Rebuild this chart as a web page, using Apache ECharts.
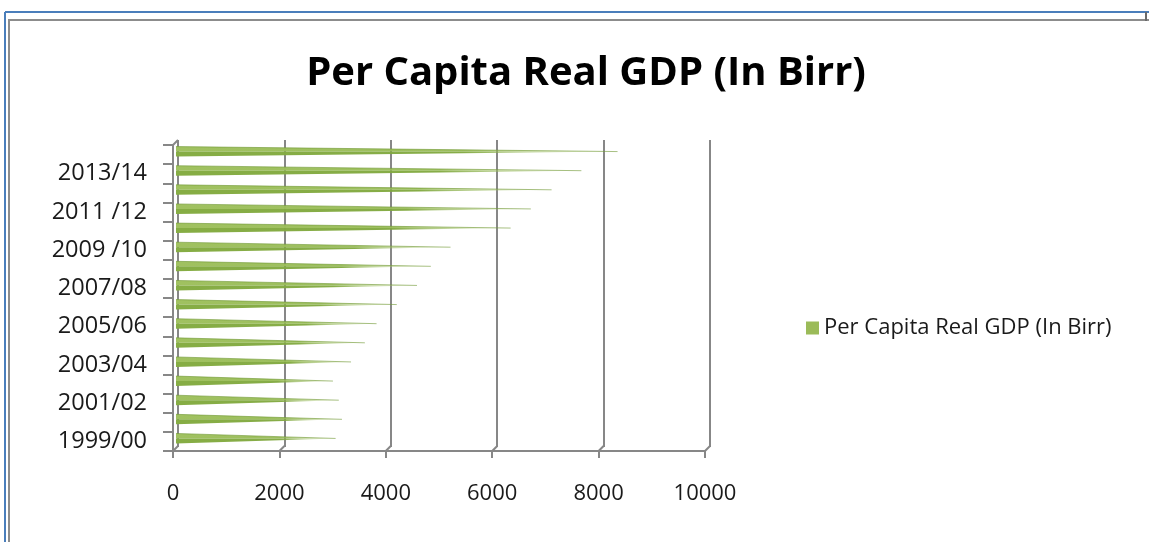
<!DOCTYPE html>
<html>
<head>
<meta charset="utf-8">
<title>Per Capita Real GDP (In Birr)</title>
<script src="https://cdn.jsdelivr.net/npm/echarts@6/dist/echarts.min.js"></script>
<style>
  html, body { margin: 0; padding: 0; background: #ffffff; }
  #chart { width: 1149px; height: 542px; }
</style>
</head>
<body>
<div id="chart"></div>
<script>
// Fiscal years, oldest first (drawn bottom to top)
const years = [
  '1999/00', '2000/01', '2001/02', '2002/03', '2003/04', '2004/05',
  '2005/06', '2006/07', '2007/08', '2008/09', '2009 /10', '2010/11',
  '2011 /12', '2012/13', '2013/14', '2014/15'
];

// Per capita real GDP, Birr
const gdpPerCapita = [
  3000, 3120, 3060, 2950, 3290, 3550,
  3770, 4150, 4530, 4790, 5160, 6290,
  6670, 7060, 7620, 8300
];

// Value axis ticks
const valueTicks = [0, 2000, 4000, 6000, 8000, 10000];

const seriesName = 'Per Capita Real GDP (In Birr)';
const FONT = 'Open Sans';
const AXIS_GRAY = '#878787';

const chart = echarts.init(document.getElementById('chart'), null, { renderer: 'canvas' });

// Cone drawn from the category base to the value tip, darker lower half
function renderCone(params, api) {
  const idx = api.value(0);
  const val = api.value(1);
  const base = api.coord([0, idx]);
  const tip = api.coord([val, idx]);
  const h = 5;
  const fade = function (c0, c1, c2) {
    return {
      type: 'linear', x: 0, y: 0, x2: 1, y2: 0,
      colorStops: [
        { offset: 0, color: c0 },
        { offset: 0.65, color: c1 },
        { offset: 1, color: c2 }
      ]
    };
  };
  return {
    type: 'group',
    children: [
      {
        type: 'polygon',
        shape: { points: [[base[0], base[1] - h], [base[0], base[1]], tip] },
        style: { fill: fade('#a0c160', 'rgba(152,188,86,0.95)', 'rgba(190,214,140,0.2)') }
      },
      {
        type: 'polygon',
        shape: { points: [[base[0], base[1]], [base[0], base[1] + h], tip] },
        style: { fill: fade('#86ad44', 'rgba(128,168,62,0.95)', 'rgba(180,206,130,0.2)') }
      },
      {
        type: 'line',
        shape: { x1: base[0], y1: base[1] - h, x2: tip[0], y2: tip[1] },
        style: { stroke: 'rgba(112,152,52,0.6)', lineWidth: 1 }
      }
    ]
  };
}

// Short slanted strokes joining the back wall to the front axis
function renderJoints(params, api) {
  const v = api.value(0);
  const bottom = api.coord([v, 0]);
  const band = api.size([0, 1])[1];
  const yb = bottom[1] + band / 2;
  const children = [{
    type: 'line',
    shape: { x1: bottom[0], y1: yb, x2: bottom[0] + 5, y2: yb - 5 },
    style: { stroke: AXIS_GRAY, lineWidth: 2 }
  }];
  if (params.dataIndex === 0) {
    const top = api.coord([v, years.length - 1]);
    const yt = top[1] - band / 2;
    children.push({
      type: 'line',
      shape: { x1: top[0], y1: yt, x2: top[0] + 5, y2: yt - 5 },
      style: { stroke: AXIS_GRAY, lineWidth: 2 }
    });
  }
  return { type: 'group', children: children };
}

const option = {
  backgroundColor: '#ffffff',
  animation: false,
  title: {
    text: 'Per Capita Real GDP (In Birr)',
    left: 581,
    top: 49,
    textAlign: 'center',
    textStyle: { fontFamily: FONT, fontWeight: 'bold', fontSize: 40, color: '#000000' }
  },
  legend: {
    left: 801,
    top: 312,
    itemWidth: 13,
    itemHeight: 13,
    icon: 'rect',
    data: [{ name: seriesName, itemStyle: { color: '#9bbb59' } }],
    textStyle: { fontFamily: FONT, fontSize: 22, color: '#1a1a1a' }
  },
  grid: [
    // front plane: axes and labels
    { left: 173, top: 145, width: 532, height: 306 },
    // back wall: gridlines
    { left: 178, top: 140, width: 532, height: 307 },
    // mid depth: cones
    { left: 176, top: 142, width: 532, height: 306 }
  ],
  xAxis: [
    {
      gridIndex: 0, type: 'value', min: 0, max: 10000, interval: 2000,
      axisLine: { show: true, lineStyle: { color: AXIS_GRAY, width: 2 } },
      axisTick: { show: true, length: 7, lineStyle: { color: AXIS_GRAY, width: 2 } },
      axisLabel: {
        margin: 32, fontFamily: FONT, fontSize: 22, color: '#1a1a1a',
        formatter: function (v) { return String(v); }
      },
      splitLine: { show: false }
    },
    {
      gridIndex: 1, type: 'value', min: 0, max: 10000, interval: 2000,
      axisLine: { show: false }, axisTick: { show: false }, axisLabel: { show: false },
      splitLine: { show: true, lineStyle: { color: AXIS_GRAY, width: 2 } }
    },
    {
      gridIndex: 2, type: 'value', min: 0, max: 10000, interval: 2000, show: false
    }
  ],
  yAxis: [
    {
      gridIndex: 0, type: 'category', data: years,
      axisLine: { show: true, lineStyle: { color: AXIS_GRAY, width: 2 } },
      axisTick: { show: true, length: 10, interval: 0, lineStyle: { color: AXIS_GRAY, width: 2 } },
      axisLabel: { interval: 1, margin: 26, fontFamily: FONT, fontSize: 23.5, color: '#1a1a1a' },
      splitLine: { show: false }
    },
    {
      gridIndex: 1, type: 'category', data: years, show: false
    },
    {
      gridIndex: 2, type: 'category', data: years, show: false
    }
  ],
  series: [
    {
      name: seriesName,
      type: 'custom',
      xAxisIndex: 2,
      yAxisIndex: 2,
      color: '#9bbb59',
      renderItem: renderCone,
      encode: { x: 1, y: 0 },
      data: years.map(function (y, i) { return [i, gdpPerCapita[i]]; }),
      z: 3
    },
    {
      type: 'custom',
      xAxisIndex: 0,
      yAxisIndex: 0,
      renderItem: renderJoints,
      data: valueTicks.map(function (v) { return [v]; }),
      silent: true,
      z: 2
    }
  ],
  graphic: [
    // window frame
    { type: 'line', shape: { x1: 5, y1: 12, x2: 1149, y2: 12 }, style: { stroke: '#4a7ebb', lineWidth: 2 } },
    { type: 'line', shape: { x1: 5, y1: 12, x2: 5, y2: 542 }, style: { stroke: '#4a7ebb', lineWidth: 2 } },
    { type: 'line', shape: { x1: 8, y1: 20, x2: 1149, y2: 20 }, style: { stroke: '#8c8c8c', lineWidth: 2 } },
    { type: 'line', shape: { x1: 9, y1: 20, x2: 9, y2: 542 }, style: { stroke: '#8c8c8c', lineWidth: 2 } },
    { type: 'line', shape: { x1: 1146, y1: 12, x2: 1146, y2: 21 }, style: { stroke: '#6a6a6a', lineWidth: 2 } }
  ]
};

chart.setOption(option);
</script>
</body>
</html>
